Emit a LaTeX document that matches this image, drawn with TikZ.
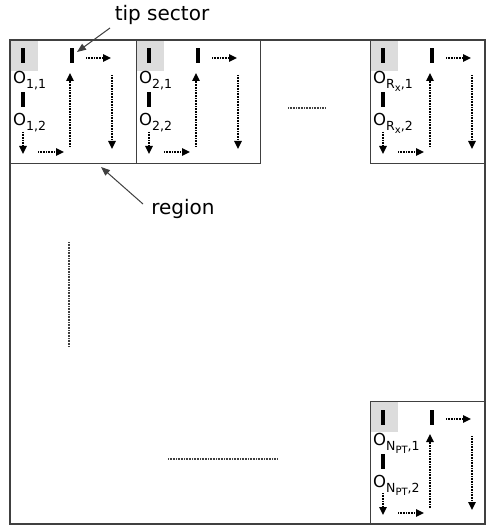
\documentclass[tikz,border=0pt]{standalone}
\usepackage{fontspec}
\setmainfont{DejaVu Sans}
\usetikzlibrary{arrows.meta}
\definecolor{tipgray}{HTML}{DCDCDC}
\definecolor{framegray}{HTML}{404040}
\newcommand\osub[1]{\raisebox{-5pt}{\fontsize{12.5}{12.5}\selectfont #1}}
\newcommand\ssub[1]{\raisebox{-3pt}{\fontsize{10}{10}\selectfont #1}}
\newcommand\regionbox[4]{%
\begin{scope}[shift={(#2)}]
  \fill[tipgray] (0,0) rectangle (28,31);
  \node[barnode] (#1bar1) at (13,16) {};
  \node[olabel] (#1lab1) at (3,44) {#3};
  \node[barnode] (#1bar2) at (13,60) {};
  \node[olabel] (#1lab2) at (3,86) {#4};
  \node[barnode] (#1tip) at (62,16) {};
  \coordinate (#1sda) at (13,92);  \coordinate (#1sdb) at (13,114);
  \coordinate (#1sra) at (28,112); \coordinate (#1srb) at (54,112);
  \coordinate (#1upa) at (60,107); \coordinate (#1upb) at (60,33);
  \coordinate (#1tra) at (76,18);  \coordinate (#1trb) at (101,18);
  \coordinate (#1dna) at (102,35); \coordinate (#1dnb) at (102,109);
  \draw[darrow] (#1sda) -- (#1sdb);
  \draw[darrow] (#1sra) -- (#1srb);
  \draw[darrow] (#1upa) -- (#1upb);
  \draw[darrow] (#1tra) -- (#1trb);
  \draw[darrow] (#1dna) -- (#1dnb);
\end{scope}}
\begin{document}
\begin{tikzpicture}[x=1pt,y=-1pt,
  barnode/.style={fill=black,draw=none,minimum width=4.5pt,minimum height=15pt,inner sep=0pt,rectangle},
  olabel/.style={anchor=base west,inner sep=0pt,font=\fontsize{16.5}{16.5}\selectfont},
  darrow/.style={line width=1.4pt,dash pattern=on 0.9pt off 0.7pt,-{Triangle[length=8pt,width=7.5pt]}},
  dotline/.style={line width=1.2pt,dash pattern=on 0.9pt off 0.7pt,draw=black!75},
  boxline/.style={draw=framegray,line width=1pt},
  callout/.style={draw=framegray,line width=1pt,-{Triangle[length=9pt,width=7pt]}},
  calltext/.style={font=\fontsize{20}{20}\selectfont,inner sep=0pt}]
\useasboundingbox (0,0) rectangle (486,529);
\fill[white] (0,0) rectangle (486,529);
% region contents
\regionbox{r1}{10,40}{O\osub{1,1}}{O\osub{1,2}}
\regionbox{r2}{136,40}{O\osub{2,1}}{O\osub{2,2}}
\regionbox{rx}{370,40}{O\osub{R\ssub{x},1}}{O\osub{R\ssub{x},2}}
\regionbox{rn}{370,401}{O\osub{N\ssub{PT},1}}{O\osub{N\ssub{PT},2}}
% boxes
\draw[boxline] (10,40) rectangle (136,164);
\draw[boxline] (136,40) rectangle (260,164);
\draw[boxline] (370,40) rectangle (485,164);
\draw[boxline] (370,401) rectangle (485,524);
\draw[draw=framegray,line width=1.5pt] (10,40) rectangle (485,524);
% ellipses
\coordinate (e1a) at (288,108); \coordinate (e1b) at (325,108);
\coordinate (e2a) at (69,242);  \coordinate (e2b) at (69,347);
\coordinate (e3a) at (168,459); \coordinate (e3b) at (278,459);
\draw[dotline] (e1a) -- (e1b);
\draw[dotline] (e2a) -- (e2b);
\draw[dotline] (e3a) -- (e3b);
% callouts
\node[calltext] (tiplbl) at (162,15) {tip sector};
\coordinate (tipfrom) at (110,28);
\coordinate (tipto) at (77,52);
\draw[callout] (tipfrom) -- (tipto);
\node[calltext] (reglbl) at (183,209) {region};
\coordinate (regfrom) at (143,204);
\coordinate (regto) at (101,167);
\draw[callout] (regfrom) -- (regto);
\end{tikzpicture}
\end{document}
